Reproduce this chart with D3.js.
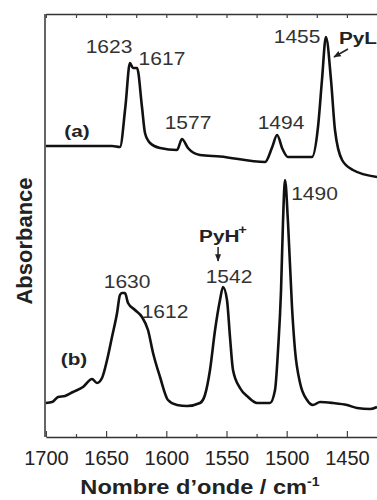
<!DOCTYPE html>
<html>
<head>
<meta charset="utf-8">
<script src="https://cdn.jsdelivr.net/npm/d3@7"></script>
<style>
  body { margin: 0; background: #fff; }
  svg { display: block; font-family: "Liberation Sans", Arial, sans-serif; }
</style>
</head>
<body>
<svg width="377" height="500"></svg>
<script>
// spectrum (a): wavenumber (cm-1) and absorbance (offset, arbitrary units)
let waveA = [1700, 1670, 1645, 1638.5, 1634, 1630.2, 1627.7, 1624.3, 1620.2, 1617.7, 1613.5, 1605.2, 1591.1, 1587, 1582, 1572, 1555.4, 1518, 1512, 1508, 1503.5, 1499, 1479, 1474, 1470.7, 1467.4, 1463.2, 1459.9, 1454, 1445, 1425];
let absA  = [2.91, 2.91, 2.91, 2.90, 3.30, 3.74, 3.69, 3.69, 3.30, 3.04, 2.94, 2.89, 2.87, 2.98, 2.89, 2.82, 2.805, 2.75, 2.90, 3.02, 2.88, 2.80, 2.80, 3.10, 3.57, 4.00, 3.57, 3.07, 2.77, 2.67, 2.60];

// spectrum (b)
let waveB = [1700, 1694.9, 1689.9, 1684.1, 1677.5, 1669.2, 1661.7, 1657.5, 1653.4, 1649.2, 1645.1, 1640.9, 1638.5, 1636.8, 1634.3, 1631.8, 1626, 1620.2, 1615.2, 1611, 1605.2, 1598.6, 1591.1, 1582.8, 1572, 1567.9, 1563.7, 1559.5, 1555.4, 1552.9, 1549.6, 1547.1, 1544.6, 1538.8, 1532.1, 1524.7, 1513.9, 1509.7, 1507.2, 1504.7, 1503.1, 1501.4, 1498.9, 1495.6, 1493.1, 1488.9, 1483.1, 1478.2, 1472.3, 1461.5, 1449.9, 1441.6, 1430.8, 1425];
let absB  = [0.34, 0.35, 0.40, 0.41, 0.45, 0.50, 0.58, 0.54, 0.59, 0.77, 1.00, 1.24, 1.42, 1.44, 1.44, 1.34, 1.27, 1.20, 1.07, 0.84, 0.60, 0.37, 0.32, 0.31, 0.34, 0.42, 0.67, 1.07, 1.37, 1.50, 1.37, 1.00, 0.67, 0.49, 0.40, 0.34, 0.34, 0.47, 0.87, 1.47, 2.14, 2.57, 2.14, 1.30, 0.87, 0.54, 0.37, 0.32, 0.35, 0.34, 0.32, 0.29, 0.28, 0.30];

let majorTicks = [1700, 1650, 1600, 1550, 1500, 1450];
let minorTicks = [1675, 1625, 1575, 1525, 1475];

// peak labels: text, wavenumber, absorbance of the label anchor
let peakLabels = ["1623", "1617", "1577", "1494", "1455", "1490", "1542", "1630", "1612"];
let peakWave   = [1647.6, 1603.6, 1582.0, 1504.7, 1491.4, 1476.9, 1547.9, 1632.6, 1601.1];
let peakAbs    = [3.84, 3.72, 3.08, 3.08, 3.94, 2.37, 1.54, 1.49, 1.19];

let svg = d3.select("svg");

let x = d3.scaleLinear().domain([1700, 1425]).range([45.9, 377]);
let y = d3.scaleLinear().domain([0, 4.23]).range([437, 14]);

let line = d3.line()
    .x(d => x(d[0]))
    .y(d => y(d[1]))
    .curve(d3.curveMonotoneX);

// frame
let frame = svg.append("g").attr("stroke", "#333").attr("stroke-width", 1.5);
frame.append("line").attr("x1", 45).attr("x2", 45).attr("y1", y(4.23)).attr("y2", y(0));

let gBottom = svg.append("g").attr("transform", `translate(0,${y(0)})`);
gBottom.call(d3.axisBottom(x).tickValues(majorTicks).tickSize(-6).tickSizeOuter(0).tickPadding(14).tickFormat(d3.format("d")));
gBottom.append("g").call(d3.axisBottom(x).tickValues(minorTicks).tickSize(-3).tickFormat(""))
    .select(".domain").remove();

let gTop = svg.append("g").attr("transform", `translate(0,${y(4.23)})`);
gTop.call(d3.axisTop(x).tickValues(majorTicks.concat(minorTicks)).tickSize(-4).tickSizeOuter(0).tickFormat(""));

svg.selectAll(".domain").attr("stroke", "#333").attr("stroke-width", 1.5);
svg.selectAll(".tick line").attr("stroke", "#444").attr("stroke-width", 1.2);
gBottom.selectAll(".tick text")
    .attr("font-size", 20)
    .attr("fill", "#222")
    .attr("font-family", "Liberation Sans, Arial, sans-serif");

// spectra
svg.append("path")
    .datum(d3.zip(waveA, absA))
    .attr("fill", "none")
    .attr("stroke", "#111")
    .attr("stroke-width", 2.6)
    .attr("stroke-linejoin", "round")
    .attr("d", line);

svg.append("path")
    .datum(d3.zip(waveB, absB))
    .attr("fill", "none")
    .attr("stroke", "#111")
    .attr("stroke-width", 2.6)
    .attr("stroke-linejoin", "round")
    .attr("d", line);

// peak labels
svg.append("g").selectAll("text")
    .data(d3.range(peakLabels.length))
    .join("text")
        .attr("transform", i => `translate(${x(peakWave[i])},${y(peakAbs[i])}) scale(1.2,1)`)
        .attr("text-anchor", "middle")
        .attr("font-size", 17.5)
        .attr("fill", "#333")
        .text(i => peakLabels[i]);

function boldLabel(txt, w, a, anchor) {
    return svg.append("text")
        .attr("transform", `translate(${x(w)},${y(a)}) scale(1.22,1)`)
        .attr("text-anchor", anchor)
        .attr("font-size", 17)
        .attr("font-weight", "bold")
        .attr("fill", "#222")
        .text(txt);
}

boldLabel("(a)", 1674.2, 3.00, "middle");
boldLabel("(b)", 1676.7, 0.72, "middle");
boldLabel("PyL", 1456.6, 3.93, "start");
let pyh = boldLabel("PyH", 1572.8, 1.95, "start");
pyh.append("tspan").attr("dx", -1).attr("dy", -8).attr("font-size", 12).text("+");

// arrows
svg.append("defs").append("marker")
    .attr("id", "head")
    .attr("viewBox", "0 0 10 10")
    .attr("refX", 9).attr("refY", 5)
    .attr("markerWidth", 5).attr("markerHeight", 5)
    .attr("orient", "auto")
    .append("path").attr("d", "M0,1 L10,5 L0,9 Z").attr("fill", "#222");

let arrows = [[1449.1, 3.88, 1460.7, 3.80], [1557.0, 1.90, 1557.0, 1.76]];
svg.append("g").selectAll("line")
    .data(arrows)
    .join("line")
        .attr("x1", d => x(d[0])).attr("y1", d => y(d[1]))
        .attr("x2", d => x(d[2])).attr("y2", d => y(d[3]))
        .attr("stroke", "#222")
        .attr("stroke-width", 1.5)
        .attr("marker-end", "url(#head)");

// axis titles
svg.append("text")
    .attr("transform", "translate(32,241) rotate(-90)")
    .attr("text-anchor", "middle")
    .attr("font-size", 22)
    .attr("font-weight", "bold")
    .attr("fill", "#222")
    .text("Absorbance");

let xt = svg.append("text")
    .attr("transform", "translate(200,494) scale(1.18,1)")
    .attr("text-anchor", "middle")
    .attr("font-size", 20)
    .attr("font-weight", "bold")
    .attr("fill", "#222")
    .text("Nombre d\u2019onde / cm");
xt.append("tspan").attr("dy", -8).attr("font-size", 12).text("-1");
</script>
</body>
</html>
